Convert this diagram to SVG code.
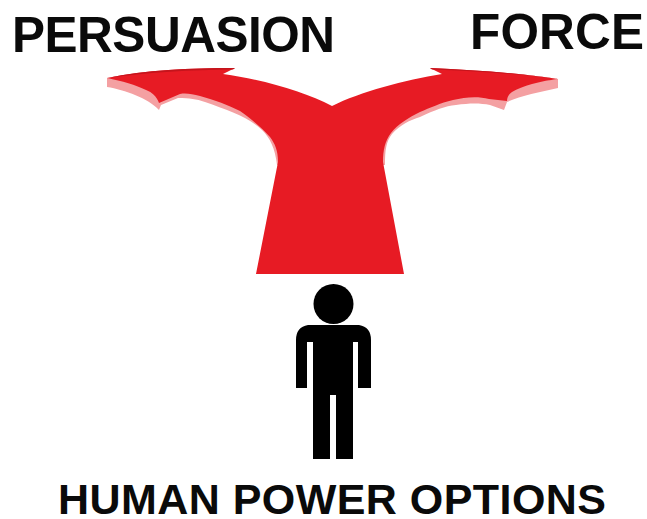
<svg xmlns="http://www.w3.org/2000/svg" width="647" height="519" viewBox="0 0 647 519">
<style>
text{font-family:"Liberation Sans",Arial,sans-serif;font-weight:700;fill:#0a0a0a}
.shade{fill:#f4a0a2}
.red{fill:#e71b24}
</style>
<rect width="647" height="519" fill="#fff"/>
<g id="arrow">
<path class="shade" d="M107 78 L107 87 C125 90 148 98 159 110 L161 105 L178 98 C190 98 196 99 205 102 C228 110 250 118 262 130 C270 138 275 148 277 165 L385 165 C385 150 386 142 392 134 C400 125 410 120 420 117 C435 110 445 106 456 105 C470 103 480 103 490 105 L504 110 L507 102 C520 96 540 92 558 88 L558 79 L470 90 L332 120 L190 85 Z"/>
<path class="red" d="M107 78 C145 70 190 68 235 68 L223 74 C265 80 305 92 332 106 C360 92 405 80 442 74 L430 68 C475 70 520 73 558 79 C540 81 522 86 512 92 C509 94 507 97 507 101 L489 99 C478 96 465 97 453 100 C440 103 430 108 420 112 C408 118 398 124 391 133 C385 141 383 150 383 162 L404 274 L256 274 L278 162 C278 150 275 144 270 137 C262 128 250 118 240 111 C228 105 215 100 200 96 C192 94 186 93 180 94 L159 103 C157 97 152 92 146 90 C136 85 122 81 107 78 Z"/>
<path fill="#c4141c" d="M107 78 C145 70 190 68 235 68 L233 69.500 C190 70 150 72 107 78 Z M430 68 C475 70 520 73 558 79 C520 74 475 71 432 69.500 Z"/>
</g>
<g id="person">
<circle cx="333.500" cy="304" r="20" fill="#000"/>
<path fill="#000" d="M308 325 L359 325 Q371 327 371 340 L371 388 L358 388 L358 342 L353 342 L353 459 L336 459 L336 395 L330 395 L330 459 L313 459 L313 342 L307 342 L307 388 L296 388 L296 340 Q296 327 308 325 Z"/>
</g>
<text id="label-persuasion" x="12" y="52" font-size="49.500" textLength="323" lengthAdjust="spacing">PERSUASION</text>
<text id="label-force" x="470" y="49" font-size="49.500" textLength="174" lengthAdjust="spacing">FORCE</text>
<text id="label-options" x="58" y="514" font-size="43" textLength="548" lengthAdjust="spacing">HUMAN POWER OPTIONS</text>
</svg>
